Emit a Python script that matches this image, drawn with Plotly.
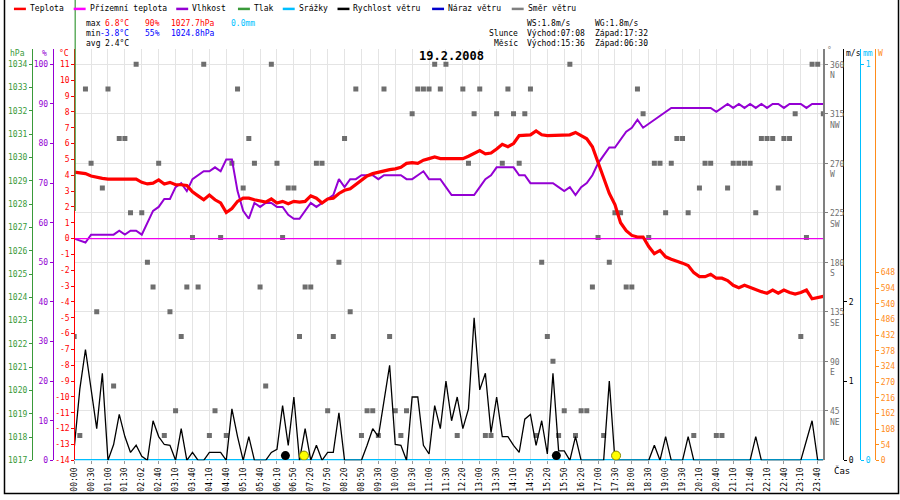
import numpy as np
import plotly.graph_objects as go

# ---------------- data ----------------
tick_labels = ["00:00", "00:30", "01:00", "01:30", "02:02", "02:40", "03:10", "03:40", "04:10",
               "04:40", "05:10", "05:40", "06:10", "06:50", "07:20", "07:50", "08:20", "08:50",
               "09:30", "10:00", "10:30", "11:00", "11:30", "12:20", "13:00", "13:30", "14:10",
               "14:50", "15:20", "15:50", "16:20", "17:00", "17:30", "18:00", "18:30", "19:00",
               "19:30", "20:10", "20:40", "21:10", "21:40", "22:10", "22:40", "23:10", "23:40"]
samples_per_tick = 3

temperature = [
    4.2, 4.15, 4.1, 3.95, 3.85, 3.8, 3.75, 3.75, 3.8, 3.8,
    3.8, 3.75, 3.55, 3.45, 3.5, 3.7, 3.45, 3.55, 3.4, 3.4,
    3.35, 2.95, 2.7, 2.45, 2.75, 2.45, 2.25, 1.65, 1.9, 2.35,
    2.55, 2.55, 2.45, 2.35, 2.3, 2.5, 2.25, 2.35, 2.2, 2.35,
    2.3, 2.35, 2.7, 2.55, 2.25, 2.5, 2.55, 2.85, 3.05, 3.15,
    3.4, 3.7, 3.95, 4.1, 4.2, 4.25, 4.35, 4.4, 4.5, 4.75,
    4.8, 4.75, 4.95, 5.05, 5.15, 5.05, 5.05, 5.05, 5.05, 5.05,
    5.2, 5.4, 5.55, 5.35, 5.4, 5.65, 5.95, 5.8, 6.0, 6.5,
    6.5, 6.55, 6.8, 6.55, 6.5, 6.5, 6.5, 6.5, 6.55, 6.7,
    6.5, 6.3, 5.8, 4.85, 3.9, 2.85, 2.15, 1.0, 0.5, 0.2,
    0.1, 0.1, -0.5, -0.95, -0.75, -1.15, -1.3, -1.4, -1.55, -1.7,
    -2.15, -2.4, -2.4, -2.25, -2.5, -2.5, -2.65, -2.95, -3.1, -2.95,
    -3.1, -3.25, -3.35, -3.45, -3.25, -3.45, -3.25, -3.4, -3.5, -3.4,
    -3.25, -3.8, -3.7, -3.65]

ground_temperature = [
    0, 0, 0, 0, 0, 0, 0, 0, 0, 0, 0, 0, 0, 0, 0, 0, 0, 0, 0, 0,
    0, 0, 0, 0, 0, 0, 0, 0, 0, 0, 0, 0, 0, 0, 0, 0, 0, 0, 0, 0,
    0, 0, 0, 0, 0, 0, 0, 0, 0, 0, 0, 0, 0, 0, 0, 0, 0, 0, 0, 0,
    0, 0, 0, 0, 0, 0, 0, 0, 0, 0, 0, 0, 0, 0, 0, 0, 0, 0, 0, 0,
    0, 0, 0, 0, 0, 0, 0, 0, 0, 0, 0, 0, 0, 0, 0, 0, 0, 0, 0, 0,
    0, 0, 0, 0, 0, 0, 0, 0, 0, 0, 0, 0, 0, 0, 0, 0, 0, 0, 0, 0,
    0, 0, 0, 0, 0, 0, 0, 0, 0, 0, 0, 0, 0, 0]

humidity = [
    56, 55.5, 55, 57, 57, 57, 57, 57, 58, 57,
    58, 58, 57, 60, 63, 64, 66, 66, 69, 70,
    68, 71, 72, 73, 73, 74, 73, 76, 76, 68,
    63, 61, 65, 64, 65, 65, 64, 64, 62, 61,
    61, 63, 65, 64, 65, 66, 67, 71, 69, 71,
    71, 72, 72, 72, 71, 72, 72, 72, 72, 71,
    71, 72, 73, 71, 71, 71, 69, 67, 67, 67,
    67, 67, 69, 71, 72, 74, 74, 74, 74, 72,
    72, 70, 70, 70, 70, 70, 69, 68, 69, 67,
    69, 70, 72, 75, 77, 79, 79, 81, 83, 84,
    86, 84, 85, 86, 87, 88, 89, 89, 89, 89,
    89, 89, 89, 89, 88, 89, 90, 89, 90, 89,
    90, 89, 90, 89, 90, 90, 89, 90, 90, 90,
    89, 90, 90, 90]

rain = [
    0, 0, 0, 0, 0, 0, 0, 0, 0, 0, 0, 0, 0, 0, 0, 0, 0, 0, 0, 0,
    0, 0, 0, 0, 0, 0, 0, 0, 0, 0, 0, 0, 0, 0, 0, 0, 0, 0, 0, 0,
    0, 0, 0, 0, 0, 0, 0, 0, 0, 0, 0, 0, 0, 0, 0, 0, 0, 0, 0, 0,
    0, 0, 0, 0, 0, 0, 0, 0, 0, 0, 0, 0, 0, 0, 0, 0, 0, 0, 0, 0,
    0, 0, 0, 0, 0, 0, 0, 0, 0, 0, 0, 0, 0, 0, 0, 0, 0, 0, 0, 0,
    0, 0, 0, 0, 0, 0, 0, 0, 0, 0, 0, 0, 0, 0, 0, 0, 0, 0, 0, 0,
    0, 0, 0, 0, 0, 0, 0, 0, 0, 0, 0, 0, 0, 0]

wind_speed = [
    0.15, 0.9, 1.4, 0.9, 0.4, 1.1, 0.0, 0.2, 0.58, 0.3,
    0.1, 0.19, 0.05, 0.0, 0.5, 0.3, 0.2, 0.19, 0.0, 0.4,
    0.0, 0.1, 0.0, 0.0, 0.1, 0.1, 0.1, 0.0, 0.65, 0.3,
    0.0, 0.3, 0.0, 0.0, 0.0, 0.1, 0.14, 0.69, 0.19, 0.8,
    0.0, 0.4, 0.0, 0.19, 0.0, 0.1, 0.1, 0.6, 0.0, 0.0,
    0.0, 0.0, 0.19, 0.4, 0.3, 0.77, 1.2, 0.2, 0.19, 0.0,
    0.8, 0.8, 0.19, 0.08, 0.69, 0.4, 1.0, 0.5, 0.8, 0.4,
    0.65, 1.8, 0.89, 1.1, 0.35, 0.8, 0.3, 0.3, 0.19, 0.1,
    0.52, 0.58, 0.19, 0.5, 0.08, 1.1, 0.12, 0.12, 0.0, 0.3,
    0.0, 0.0, 0.0, 0.0, 0.0, 1.0, 0.0, 0.0, 0.0, 0.0,
    0.0, 0.0, 0.0, 0.19, 0.0, 0.3, 0.0, 0.0, 0.0, 0.3,
    0.0, 0.0, 0.0, 0.0, 0.0, 0.0, 0.0, 0.0, 0.0, 0.0,
    0.0, 0.3, 0.0, 0.0, 0.0, 0.0, 0.0, 0.0, 0.0, 0.0,
    0.25, 0.5, 0.0, 0.0]

wind_direction = [
    112.5, 22.5, 337.5, 270, 135, 247.5, 337.5, 67.5, 292.5, 292.5,
    225, 360, 225, 180, 157.5, 270, 22.5, 135, 45, 112.5,
    157.5, 202.5, 157.5, 360, 22.5, 45, 202.5, 22.5, 270, 337.5,
    247.5, 292.5, 270, 157.5, 67.5, 360, 270, 202.5, 247.5, 247.5,
    112.5, 157.5, 157.5, 270, 270, 45, 112.5, 180, 292.5, 135,
    337.5, 22.5, 45, 45, 22.5, 337.5, 112.5, 45, 22.5, 45,
    315, 337.5, 337.5, 337.5, 360, 337.5, 360, None, 22.5, 337.5,
    270, 315, 337.5, 22.5, 22.5, 315, 270, 337.5, 315, 270,
    315, 337.5, 22.5, 180, 112.5, 90, 22.5, 45, 360, 22.5,
    45, 45, 157.5, 202.5, 22.5, 180, 225, 225, 157.5, 157.5,
    337.5, 315, 202.5, 270, 270, 225, 270, 292.5, 292.5, 225,
    22.5, 247.5, 270, 270, 22.5, 22.5, 247.5, 270, 270, 270,
    270, 225, 292.5, 292.5, 292.5, 247.5, 292.5, 292.5, 315, 112.5,
    202.5, 360, 360, 315]

pressure_max = 1027.7
pressure_min = 1024.8

sun_events = ["07:08", "17:32"]    # sunrise, sunset
moon_events = ["06:30", "15:36"]   # moonset, moonrise

temp_ticks = list(range(-14, 12))
hum_ticks = list(range(0, 101, 10))
press_ticks = list(range(1017, 1035))
dir_ticks = [45, 90, 135, 180, 225, 270, 315, 360]
dir_names = ["NE", "E", "SE", "S", "SW", "W", "NW", "N"]
wind_ticks = [0, 1, 2]
rain_ticks = [0, 1]
solar_ticks = list(range(0, 649, 54))

# ---------------- geometry helpers ----------------
FIG_W, FIG_H = 900, 500
MONO = "DejaVu Sans Mono"


def pxx(p):
    return p / FIG_W


def pxy(p):
    return 1 - p / FIG_H


PLOT_L, PLOT_R, PLOT_T, PLOT_B = 70.5, 823, 49, 465
n = len(temperature)
xs = list(range(n))
tick_idx = [i * samples_per_tick for i in range(len(tick_labels))]


def to_min(t):
    h, m = t.split(":")
    return int(h) * 60 + int(m)


tick_min = [to_min(t) for t in tick_labels]
sun_x = list(np.interp([to_min(t) for t in sun_events], tick_min, tick_idx))
moon_x = list(np.interp([to_min(t) for t in moon_events], tick_min, tick_idx))

C_TEMP = "#ff0000"
C_GROUND = "#ee00ee"
C_HUM = "#9400d3"
C_PRESS = "#3a9a3a"
C_RAIN = "#00bfff"
C_WIND = "#000000"
C_GUST = "#0000cc"
C_DIR = "#6e6e6e"
C_SOLAR = "#ff8c1a"

fig = go.Figure()

# direction squares (main axis y)
fig.add_trace(go.Scatter(x=xs, y=wind_direction, mode="markers", yaxis="y",
                         marker=dict(symbol="square", size=5, color=C_DIR, line=dict(width=0)),
                         showlegend=False, hoverinfo="skip"))
# solar radiation axis (no data in this record) - empty trace keeps the axis drawn
fig.add_trace(go.Scatter(x=[], y=[], mode="lines", yaxis="y2", line=dict(color=C_SOLAR),
                         showlegend=False, hoverinfo="skip"))
# rain
fig.add_trace(go.Scatter(x=xs, y=rain, mode="lines", yaxis="y3",
                         line=dict(color=C_RAIN, width=2.5), showlegend=False, hoverinfo="skip"))
# wind speed
fig.add_trace(go.Scatter(x=xs, y=wind_speed, mode="lines", yaxis="y4",
                         line=dict(color=C_WIND, width=1.3), showlegend=False, hoverinfo="skip"))
# moon and sun markers
fig.add_trace(go.Scatter(x=moon_x, y=[0.06] * len(moon_x), mode="markers", yaxis="y4",
                         marker=dict(size=9, color="#000000"), showlegend=False, hoverinfo="skip"))
fig.add_trace(go.Scatter(x=sun_x, y=[0.06] * len(sun_x), mode="markers", yaxis="y4",
                         marker=dict(size=9, color="#ffff00", line=dict(color="#888800", width=1)),
                         showlegend=False, hoverinfo="skip"))
# pressure axis (series only present as the vertical artifact at the first sample)
fig.add_trace(go.Scatter(x=[], y=[], mode="lines", yaxis="y5", line=dict(color=C_PRESS),
                         showlegend=False, hoverinfo="skip"))
# humidity
fig.add_trace(go.Scatter(x=xs, y=humidity, mode="lines", yaxis="y6",
                         line=dict(color=C_HUM, width=2), showlegend=False, hoverinfo="skip"))
# ground temperature
fig.add_trace(go.Scatter(x=xs, y=ground_temperature, mode="lines", yaxis="y7",
                         line=dict(color=C_GROUND, width=1.2), showlegend=False, hoverinfo="skip"))
# temperature
fig.add_trace(go.Scatter(x=xs, y=temperature, mode="lines", yaxis="y7",
                         line=dict(color=C_TEMP, width=3.2), showlegend=False, hoverinfo="skip"))

ydom = [pxy(PLOT_B), pxy(PLOT_T)]
plot_h = PLOT_B - PLOT_T


def axis(color, tickvals, ticktext, rng, **kw):
    d = dict(range=rng, tickvals=tickvals, ticktext=ticktext, showgrid=False, zeroline=False,
             showline=True, linecolor=color, linewidth=1, ticks="outside", ticklen=3,
             tickcolor=color, tickfont=dict(family=MONO, size=8, color=color), fixedrange=True)
    d.update(kw)
    return d


dir_top = 360 * plot_h / 400.0
press_top = 1017 + (1034 - 1017) * plot_h / 400.0
hum_top = 100 * plot_h / 400.0
temp_top = -14 + 25 * plot_h / 400.0
wind_top = plot_h / 80.0
rain_top = plot_h / 400.0
solar_top = 1420

layout_axes = dict(
    yaxis=axis("#808080", dir_ticks, [f"{v}<br>{nm}" for v, nm in zip(dir_ticks, dir_names)],
               [0, dir_top], domain=ydom, side="right", anchor="x", showgrid=True,
               gridcolor="#e4e4e4", gridwidth=1, linewidth=2,
               tickfont=dict(family=MONO, size=8, color="#707070"), ticklabelshift=6),
    yaxis2=axis(C_SOLAR, solar_ticks, [str(v) for v in solar_ticks], [0, solar_top],
                overlaying="y", side="right", anchor="free", position=pxx(875)),
    yaxis3=axis(C_RAIN, rain_ticks, [str(v) for v in rain_ticks], [0, rain_top],
                overlaying="y", side="right", anchor="free", position=pxx(860)),
    yaxis4=axis(C_WIND, wind_ticks, [str(v) for v in wind_ticks], [0, wind_top],
                overlaying="y", side="right", anchor="free", position=pxx(843)),
    yaxis5=axis(C_PRESS, press_ticks, [str(v) for v in press_ticks], [1017, press_top],
                overlaying="y", side="left", anchor="free", position=pxx(28)),
    yaxis6=axis(C_HUM, hum_ticks, [str(v) for v in hum_ticks], [0, hum_top],
                overlaying="y", side="left", anchor="free", position=pxx(49)),
    yaxis7=axis(C_TEMP, temp_ticks, [str(v) for v in temp_ticks], [-14, temp_top],
                overlaying="y", side="left", anchor="free", position=pxx(PLOT_L)),
)

xaxis = dict(domain=[pxx(PLOT_L), pxx(PLOT_R)], range=[0, n - 1], tickvals=tick_idx,
             ticktext=tick_labels, tickangle=-90, tickfont=dict(family=MONO, size=8, color="#000"),
             showgrid=True, gridcolor="#e4e4e4", gridwidth=1, zeroline=False, showline=False,
             ticks="outside", ticklen=3, tickcolor="#999999", fixedrange=True)

shapes = []
# outer frame (left, bottom, right)
shapes.append(dict(type="path", xref="paper", yref="paper",
                   path=f"M {pxx(0.5)},{pxy(0)} L {pxx(0.5)},{pxy(498.5)} L {pxx(898.5)},{pxy(498.5)} L {pxx(898.5)},{pxy(0)}",
                   line=dict(color="#000000", width=1.5)))
# pressure trace artifact: vertical green line at the first sample from the max pressure upward
press_paper = ydom[0] + (pressure_max - 1017) / (press_top - 1017) * (ydom[1] - ydom[0])
shapes.append(dict(type="line", xref="paper", yref="paper", x0=pxx(PLOT_L + 1), x1=pxx(PLOT_L + 1),
                   y0=press_paper, y1=1.0, line=dict(color=C_PRESS, width=1.2)))

annotations = []


def text(s, x, y, color="#000", size=8, anchor="left", bold=False):
    annotations.append(dict(text=f"<b>{s}</b>" if bold else s, x=pxx(x), y=pxy(y),
                            xref="paper", yref="paper", xanchor=anchor, yanchor="middle",
                            showarrow=False, font=dict(family=MONO, size=size, color=color)))


# legend row
legend_items = [("Teplota", C_TEMP, 10), ("Přízemní teplota", "#ff00ff", 70), ("Vlhkost", C_HUM, 173),
                ("Tlak", C_PRESS, 235), ("Srážky", C_RAIN, 280), ("Rychlost větru", C_WIND, 335),
                ("Náraz větru", C_GUST, 430), ("Směr větru", "#808080", 510)]
for name, col, x0 in legend_items:
    shapes.append(dict(type="line", xref="paper", yref="paper", x0=pxx(x0), x1=pxx(x0 + 12),
                       y0=pxy(9), y1=pxy(9), line=dict(color=col, width=2.5)))
    text(name, x0 + 14, 9)

# statistics block
text("max", 80, 24)
text("6.8°C", 128, 24, C_TEMP, anchor="right")
text("90%", 140, 24, C_TEMP)
text("1027.7hPa", 166, 24, C_TEMP)
text("0.0mm", 226, 24, C_RAIN)
text("min", 80, 34)
text("-3.8°C", 128, 34, "#0000ff", anchor="right")
text("55%", 140, 34, "#0000ff")
text("1024.8hPa", 166, 34, "#0000ff")
text("avg", 80, 44)
text("2.4°C", 128, 44, anchor="right")

text("WS:1.8m/s", 523, 24)
text("WG:1.8m/s", 592, 24)
text("Slunce", 518, 34, anchor="right")
text("Východ:07:08", 523, 34)
text("Západ:17:32", 592, 34)
text("Měsíc", 518, 44, anchor="right")
text("Východ:15:36", 523, 44)
text("Západ:06:30", 592, 44)

# title
text("19.2.2008", 449, 57, size=12, anchor="center", bold=True)

# axis unit labels
text("hPa", 4, 54, C_PRESS)
text("%", 45, 54, C_HUM, anchor="right")
text("°C", 67, 54, C_TEMP, anchor="right")
text("°", 825, 51, "#808080")
text("m/s", 844, 54, "#000")
text("mm", 861, 54, C_RAIN)
text("W", 876, 54, C_SOLAR)
text("Čas", 832, 475, "#000", size=9)

fig.update_layout(
    width=FIG_W, height=FIG_H, margin=dict(l=0, r=0, t=0, b=0),
    paper_bgcolor="#ffffff", plot_bgcolor="#ffffff", showlegend=False,
    xaxis=xaxis, shapes=shapes, annotations=annotations, hovermode=False,
    **layout_axes)

fig.write_html("out.html", config=dict(displayModeBar=False),
               post_script="document.body.style.margin='0px';document.body.style.padding='0px';")
